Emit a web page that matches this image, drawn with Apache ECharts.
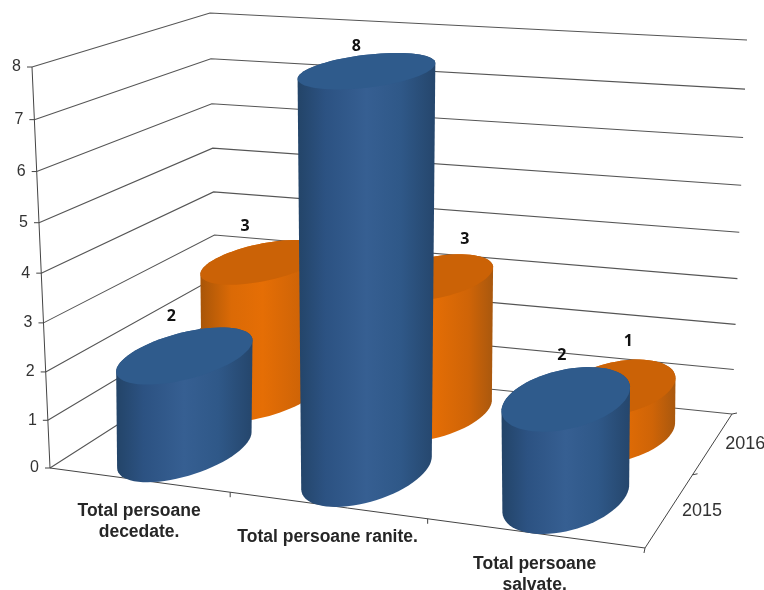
<!DOCTYPE html>
<html><head><meta charset="utf-8">
<style>html,body{margin:0;padding:0;background:#fff}#c{width:764px;height:590px}</style>
<script src="https://cdn.jsdelivr.net/npm/echarts@6/dist/echarts.min.js"></script>
</head><body><div id="c"></div>
<script>
var categories = ['Total persoane\ndecedate.', 'Total persoane ranite.', 'Total persoane\nsalvate.'];
var years = ['2015', '2016'];
var values2015 = [2, 8, 2];
var values2016 = [3, 3, 1];
var yTicks = [0, 1, 2, 3, 4, 5, 6, 7, 8];

var W = 764, H = 590;
var FLOOR = [[50,468],[645,548],[732,414],[217,361]];
var ROOF  = [[32,67],[663,117],[747,40],[210,13]];
var RD = 0.24, SHEAR = -0.085, SHIFT_X = 3;
function radiusU(u){return 0.105-0.016*u;}
var LABEL_NUDGE = {'2015':[[-7,-38],[7,-24],[-2,-42]], '2016':[[-11,-35],[38,-37],[13,-45]]};

function homography(q){
  var x0=q[0][0],y0=q[0][1],x1=q[1][0],y1=q[1][1],x2=q[2][0],y2=q[2][1],x3=q[3][0],y3=q[3][1];
  var dx1=x1-x2,dx2=x3-x2,sx=x0-x1+x2-x3,dy1=y1-y2,dy2=y3-y2,sy=y0-y1+y2-y3;
  var den=dx1*dy2-dx2*dy1;
  var g=(sx*dy2-dx2*sy)/den,h=(dx1*sy-sx*dy1)/den;
  var a=x1-x0+g*x1,b=x3-x0+h*x3,c=x0,d=y1-y0+g*y1,e=y3-y0+h*y3,f=y0;
  return function(u,v){var w=g*u+h*v+1;return [(a*u+b*v+c)/w,(d*u+e*v+f)/w];};
}
var floorH = homography(FLOOR), roofH = homography(ROOF);
function warp(t){return t/(1.058-0.058*t);}
function project(u,d,t){
  var a=floorH(u,d),b=roofH(u,d),k=warp(t);
  return [a[0]+(b[0]-a[0])*k,a[1]+(b[1]-a[1])*k];
}
function toUnit(api,i,v){
  var p=api.coord([i,v]);
  return {u:p[0]/W,t:1-p[1]/H};
}
function hull(pts){
  pts=pts.slice().sort(function(a,b){return a[0]-b[0]||a[1]-b[1];});
  function cross(o,a,b){return (a[0]-o[0])*(b[1]-o[1])-(a[1]-o[1])*(b[0]-o[0]);}
  var lo=[],up=[],i;
  for(i=0;i<pts.length;i++){while(lo.length>1&&cross(lo[lo.length-2],lo[lo.length-1],pts[i])<=0)lo.pop();lo.push(pts[i]);}
  for(i=pts.length-1;i>=0;i--){while(up.length>1&&cross(up[up.length-2],up[up.length-1],pts[i])<=0)up.pop();up.push(pts[i]);}
  lo.pop();up.pop();return lo.concat(up);
}
function bodyGrad(stops){
  return new echarts.graphic.LinearGradient(0,0,1,0,stops);
}
var palette = {
  '2015':{top:'#2f5b8c',stops:[{offset:0,color:'#234468'},{offset:.2,color:'#2c5282'},{offset:.5,color:'#365f92'},{offset:.75,color:'#2f5888'},{offset:1,color:'#25466c'}]},
  '2016':{top:'#cb6206',stops:[{offset:0,color:'#a85508'},{offset:.25,color:'#db6a06'},{offset:.5,color:'#e56e05'},{offset:.8,color:'#cf6407'},{offset:1,color:'#a9580e'}]}
};
function cylinder(year,depth){
  return function(params,api){
    var i=api.value(0),v=api.value(1),b=toUnit(api,i,0),top=toUnit(api,i,v);
    var base=[],roof=[],n=72,cf=floorH(b.u,depth),ru=radiusU(b.u);
    function pt(uu,dd,t){
      var x=floorH(uu,dd)[0],y=project(uu,dd,t)[1];
      x=cf[0]+(x-cf[0])*(1+0.055*t);
      return [x+SHIFT_X,y+SHEAR*(1-0.6*t)*(x-cf[0])];
    }
    for(var k=0;k<n;k++){
      var a=k/n*Math.PI*2,uu=b.u+ru*Math.cos(a),dd=depth+RD*Math.sin(a);
      base.push(pt(uu,dd,0));roof.push(pt(uu,dd,top.t));
    }
    var c=project(b.u,depth,top.t),nudge=LABEL_NUDGE[year][i];
    return {type:'group',children:[
      {type:'polygon',shape:{points:hull(base.concat(roof))},style:{fill:bodyGrad(palette[year].stops)}},
      {type:'polygon',shape:{points:roof},style:{fill:palette[year].top}},
      {type:'text',z2:50,style:{text:String(v),x:c[0]+nudge[0],y:c[1]+nudge[1],align:'center',verticalAlign:'middle',
        fill:'#111',font:'bold 16px "Open Sans", sans-serif'}}
    ]};
  };
}
function gridItem(params,api){
  var v=api.value(0),t=toUnit(api,0,v).t;
  var a=project(0,0,t),b=project(0,1,t),c=project(1,1,t),tick=project(0,0,t);
  return {type:'group',children:[
    {type:'polyline',shape:{points:[a,b,c]},style:{stroke:'#555',lineWidth:1.1,fill:null}},
    {type:'line',shape:{x1:tick[0]-5,y1:tick[1],x2:tick[0],y2:tick[1]},style:{stroke:'#444',lineWidth:1}},
    {type:'text',style:{text:String(v),x:tick[0]-11,y:tick[1],align:'right',verticalAlign:'middle',fill:'#333',font:'16px "Liberation Sans"'}}
  ]};
}
function frameItem(params,api){
  if(params.dataIndex>0)return null;
  var kids=[];
  function seg(p,q,w){kids.push({type:'line',shape:{x1:p[0],y1:p[1],x2:q[0],y2:q[1]},style:{stroke:'#444',lineWidth:w||1}});}
  seg(project(0,0,0),project(0,0,1));
  seg(project(0,0,0),project(1,0,0));
  seg(project(1,0,0),project(1,1,0));
  for(var i=1;i<3;i++){var p=project(i/3,0,0);seg(p,[p[0],p[1]+5]);}
  var s=project(1,.5,0);seg(s,[s[0]+5,s[1]-1]);
  var e=project(1,1,0);seg(e,[e[0]+5,e[1]-1]);
  var s0=project(1,0,0);seg(s0,[s0[0]-1,s0[1]+5]);
  return {type:'group',children:kids};
}
function categoryItem(params,api){
  var i=api.value(0),u=toUnit(api,i,0).u,p=project(u,0,0);
  return {type:'text',style:{text:categories[i],x:p[0]+1,y:p[1]+21,align:'center',verticalAlign:'top',lineHeight:21,
    fill:'#262626',font:'bold 17.5px "Liberation Sans"'}};
}
function yearItem(params,api){
  var d=api.value(0),p=project(1,d,0);
  return {type:'text',style:{text:years[params.dataIndex],x:p[0]+12,y:p[1]+1,align:'left',verticalAlign:'middle',fill:'#333',font:'18px "Liberation Sans"'}};
}
var chart=echarts.init(document.getElementById('c'),null,{renderer:'canvas'});
chart.setOption({
  animation:false,backgroundColor:'#fff',
  grid:{left:0,right:0,top:0,bottom:0},
  xAxis:{type:'category',data:categories,show:false},
  yAxis:{type:'value',min:0,max:8,interval:1,show:false},
  series:[
    {type:'custom',name:'grid',renderItem:gridItem,silent:true,data:yTicks.map(function(v){return [v];}),encode:{y:0},clip:false,z:1},
    {type:'custom',name:'axes',renderItem:frameItem,silent:true,data:[[0]],clip:false,z:2},
    {type:'custom',name:years[1],renderItem:cylinder('2016',.75),data:values2016.map(function(v,i){return [i,v];}),clip:false,z:3},
    {type:'custom',name:years[0],renderItem:cylinder('2015',.25),data:values2015.map(function(v,i){return [i,v];}),clip:false,z:4},
    {type:'custom',name:'categories',renderItem:categoryItem,silent:true,data:categories.map(function(c,i){return [i];}),clip:false,z:5},
    {type:'custom',name:'years',renderItem:yearItem,silent:true,data:[[.25],[.75]],clip:false,z:5}
  ]
});
</script></body></html>
